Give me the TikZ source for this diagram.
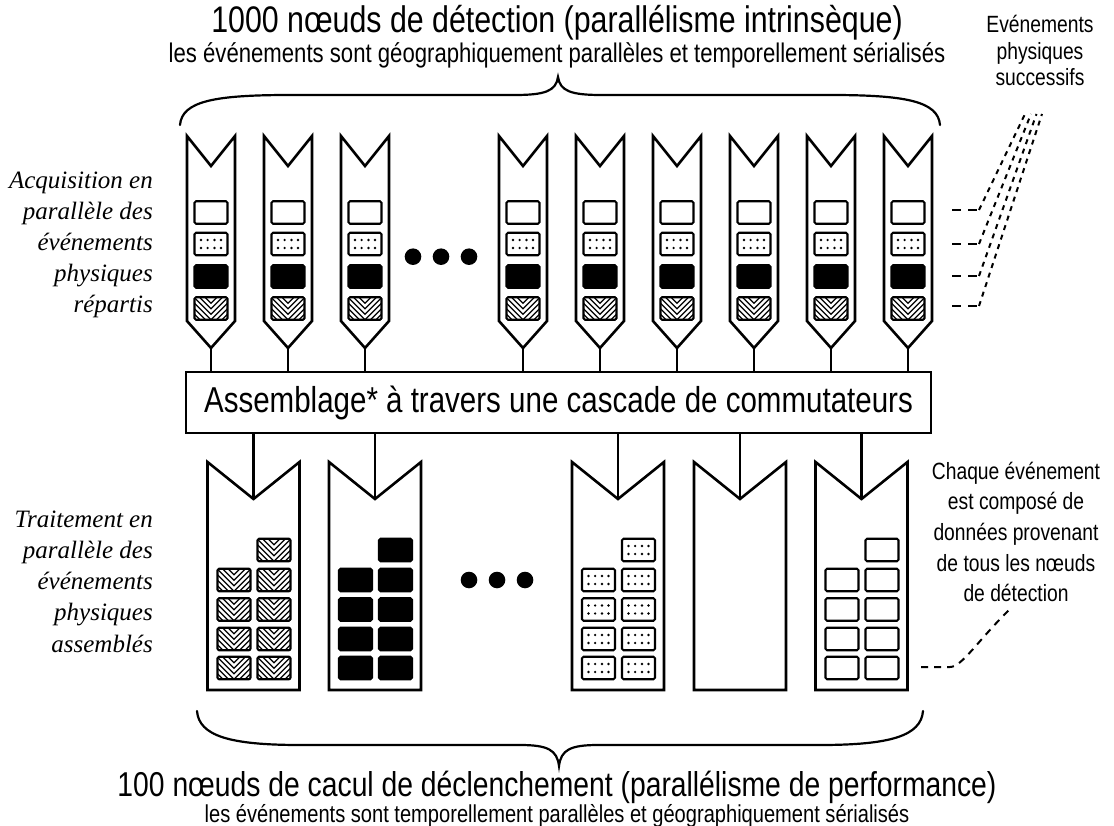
\documentclass[tikz,border=0pt]{standalone}
\usepackage{fontspec}
\setmainfont{Liberation Sans}[FakeStretch=0.82]
\newfontfamily\labelserif{Liberation Serif}
\newcommand\cellstack[2]{%
  \foreach \r in {580,609.5,639,668} {%
    \pic at (#1-19.5,\r) {#2};
    \pic at (#1+20.5,\r) {#2};
  }%
  \pic at (#1+20.5,550) {#2};%
}
\begin{document}
\begin{tikzpicture}[x=1pt,y=-1pt,
  nodeline/.style={line width=2.6pt, line join=miter, miter limit=10},
  cellline/.style={line width=2.1pt, rounded corners=1.5pt},
  stem/.style={line width=2.3pt},
  brace/.style={line width=2.2pt, line cap=round},
  hdash/.style={line width=2pt, dash pattern=on 9pt off 7pt},
  ddash/.style={line width=2pt, dash pattern=on 5pt off 5pt},
  lbl/.style={font=\labelserif\itshape\fontsize{25}{30}\selectfont, anchor=base east, inner sep=0},
  note/.style={font=\fontsize{23.5}{27}\selectfont, anchor=base, inner sep=0},
  whitecell/.pic={\draw[cellline, fill=white] (-16.5,-11.25) rectangle (16.5,11.25);},
  blackcell/.pic={\draw[cellline, fill=black] (-16.5,-11.25) rectangle (16.5,11.25);},
  dotcell/.pic={\draw[cellline, fill=white] (-16.5,-11.25) rectangle (16.5,11.25);
     \foreach \dx in {-10,-3.4,3.4,10} \foreach \dy in {-4,4} \fill (\dx,\dy) circle (1.35);},
  hatchcell/.pic={\begin{scope}\clip (-16.5,-11.25) rectangle (16.5,11.25);
     \foreach \k in {-5,...,3} \draw[line width=1.1pt] (-30,{11.25-\k*5.5-30}) -- (0,{11.25-\k*5.5}) -- (30,{11.25-\k*5.5-30});
     \end{scope}
     \draw[cellline] (-16.5,-11.25) rectangle (16.5,11.25);}
]
\fill[white] (0,0) rectangle (1114,826);
\useasboundingbox (0,0) rectangle (1114,826);

% titles
\node[font=\fontsize{37}{40}\selectfont, anchor=base, inner sep=0] (title) at (557,33) {1000 nœuds de détection (parallélisme intrinsèque)};
\node[font=\fontsize{27}{30}\selectfont, anchor=base, inner sep=0] (subtitle) at (557,62.5) {les événements sont géographiquement parallèles et temporellement sérialisés};

% top brace
\draw[brace] (180,125) .. controls (182,101) and (215,95) .. (290,95) -- (515,95) .. controls (545,95) and (556,91) .. (558,77) .. controls (560,91) and (571,95) .. (601,95) -- (830,95) .. controls (905,95) and (938,101) .. (940,125);

% top nodes
\foreach \cx [count=\i] in {211,288,365,523,600,677,754,831,908} {
  \draw[nodeline] (\cx-24,136) -- (\cx,166) -- (\cx+24,136) -- (\cx+24,321) -- (\cx,348) -- (\cx-24,321) -- cycle;
  \coordinate (t\i) at (\cx,348);
  \pic at (\cx,212.5) {whitecell};
  \pic at (\cx,244) {dotcell};
  \pic at (\cx,276.5) {blackcell};
  \pic at (\cx,308.5) {hatchcell};
}
\foreach \x in {413,441,469} \fill (\x,256.7) circle (8.3);

% switch box
\node[draw, line width=2.4pt, minimum width=745pt, minimum height=61pt, inner sep=0,
      font=\fontsize{36}{40}\selectfont] (box) at (558.5,402.5) {Assemblage* à travers une cascade de commutateurs};
\foreach \i in {1,...,9} \draw[stem] (t\i) -- (t\i |- box.north);

% bottom nodes
\foreach \cx [count=\i] in {253.5,375,618,740,861.5} {
  \draw[nodeline] (\cx-46,462) -- (\cx,499) -- (\cx+46,462) -- (\cx+46,690) -- (\cx-46,690) -- cycle;
  \coordinate (b\i) at (\cx,499);
}
\foreach \i in {1,...,5} \draw[stem] (b\i |- box.south) -- (b\i);
\cellstack{253.5}{hatchcell}
\cellstack{375}{blackcell}
\cellstack{618}{dotcell}
\cellstack{861.5}{whitecell}
\foreach \x in {469,497,525} \fill (\x,580) circle (8.3);

% bottom brace
\draw[brace] (197,711) .. controls (199,736) and (230,745) .. (300,745) -- (520,745) .. controls (548,745) and (557,750) .. (559,766) .. controls (561,750) and (570,745) .. (598,745) -- (820,745) .. controls (890,745) and (921,736) .. (923,711);

\node[font=\fontsize{34.5}{38}\selectfont, anchor=base, inner sep=0] (btitle) at (557,796) {100 nœuds de cacul de déclenchement (parallélisme de performance)};
\node[font=\fontsize{24.5}{28}\selectfont, anchor=base, inner sep=0] (bsubtitle) at (557,822) {les événements sont temporellement parallèles et géographiquement sérialisés};

% left labels
\foreach \t/\y [count=\i] in {Acquisition en/189, parallèle des/220, événements/251, physiques/282, répartis/313}
  \node[lbl] (la\i) at (153,\y) {\t};
\foreach \t/\y [count=\i] in {Traitement en/527, parallèle des/558, événements/589, physiques/620, assemblés/652}
  \node[lbl] (lb\i) at (153,\y) {\t};

% right notes
\foreach \t/\y [count=\i] in {Evénements/33, physiques/60, successifs/86}
  \node[note] (na\i) at (1040,\y) {\t};
\foreach \t/\y [count=\i] in {Chaque événement/479, est composé de/509, données provenant/540, de tous les nœuds/571, de détection/601}
  \node[note] (nb\i) at (1016,\y) {\t};

% successive events dashed lines
\foreach \y/\tx [count=\i] in {210/1025, 244/1031, 276/1036.5, 306/1042} {
  \coordinate (hs\i) at (952,\y);
  \coordinate (hk\i) at (979,\y);
  \coordinate (ht\i) at (\tx,114);
  \draw[hdash] (hs\i) -- (hk\i);
  \draw[ddash] (hk\i) -- (ht\i);
}

% composed event dashed line
\coordinate (cs) at (921,667);
\coordinate (ce) at (1012,607);
\draw[line width=2pt, dash pattern=on 7pt off 6pt] (cs) -- (950,667) .. controls (962,667) and (978,640) .. (ce);
\end{tikzpicture}
\end{document}
